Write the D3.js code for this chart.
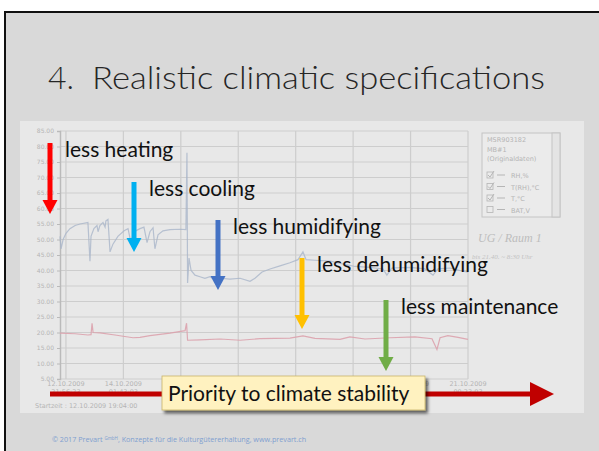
<!DOCTYPE html>
<meta charset="utf-8">
<style>
  body { margin: 0; background: #fff; }
  svg { display: block; }
</style>
<svg width="599" height="451"></svg>
<script src="https://cdn.jsdelivr.net/npm/d3@7"></script>
<script>
// ---- data (hours since Startzeit 12.10.2009 19:04:00) ----
var rhHours = [0, 0.5, 1.5, 2.9, 4.8, 7.3, 9.7, 13.5, 14.5, 15.0, 16.4, 17.9, 18.4, 19.3, 20.8, 21.8, 22.2, 23.2, 24.2,
  25.6, 28.0, 31.0, 32.9, 34.3, 35.8, 38.7, 40.6, 42.1, 43.5, 45.0, 45.9, 47.4, 49.8, 53.2, 58.0, 60.9, 61.4, 61.7,
  62.4, 63.4, 65.3, 67.7, 70.1, 72.5, 75.0, 77.4, 82.2, 87.1, 91.9, 94.3, 97.7, 101.6, 106.4, 111.2, 115.1, 117.5,
  119.0, 123.3, 130.6, 137.8, 142.7, 149.9, 156.2, 158.1, 160.5, 169.3, 176.5, 180.4, 182.8, 188.6, 193.4, 197.3];
var rhValues = [51, 47, 50, 52, 53.5, 54.5, 55, 55.5, 43, 51, 53.5, 54.5, 52.5, 54.5, 55.5, 54, 56, 56.5, 46,
  48.5, 51, 52.8, 53.5, 49, 52.5, 53.5, 54, 49, 52.5, 53.8, 47, 51.5, 52.8, 53.2, 53.3, 53.2, 78, 36,
  44, 40, 38.5, 38, 37.5, 38, 37, 37.5, 37.2, 37.5, 36.5, 37.5, 39.5, 40.5, 41.5, 42.5, 43.5, 46,
  43.5, 43.3, 43, 42, 41.3, 41, 40.5, 38.5, 40.8, 41, 40.5, 38.5, 40.5, 40.8, 40, 39.5];

var tHours = [0, 7.3, 13.5, 15.0, 15.5, 16.0, 19.3, 26.6, 35.3, 38.7, 43.5, 53.2, 60.5, 61.2, 61.7, 67.7, 77.4,
  87.1, 96.7, 111.2, 117.5, 123.3, 135.4, 140.2, 147.5, 159.6, 171.7, 179.9, 182.3, 183.8, 187.6, 192.5, 197.3];
var tValues = [19.8, 19.6, 19.2, 19.3, 23, 20, 19.9, 19.2, 18.3, 18.4, 19.0, 19.8, 20.6, 23, 17.5, 17.6, 17.9,
  17.5, 18.0, 18.2, 18.9, 18.1, 17.8, 18.6, 17.9, 18.3, 18.6, 18.0, 14.5, 18.3, 19.0, 18.4, 17.8];

var yTicks = d3.range(5, 90, 5);
var xTickHours = [2.873, 30.651, 58.429, 86.207, 113.985, 141.763, 169.541, 197.319];
// only the tick labels not hidden behind the banner are visible in the screenshot
var xLabelHours = [2.873, 30.651, 169.541, 197.319];
var xTickDates = ["12.10.2009", "14.10.2009", "19.10.2009", "21.10.2009"];
var xTickTimes = ["21:56:23", "01:43:03", "20:36:23", "00:23:03"];

var legendLines = ["MSR903182", "MB#1", "(Originaldaten)"];
var legendSeries = ["RH,%", "T(RH),°C", "T,°C", "BAT,V"];
var legendChecked = [true, true, true, false];

var noteLabels = ["less heating", "less cooling", "less humidifying", "less dehumidifying", "less maintenance"];
var noteColors = ["#ff0000", "#00b0f0", "#4472c4", "#ffc000", "#70ad47"];

var title = "Realistic climatic specifications";
var bannerText = "Priority to climate stability";

// ---- layout ----
var svg = d3.select("svg");
var plot = {left: 60, right: 468, top: 131, bottom: 379};

var x = d3.scaleLinear().domain([0, 197.32]).range([plot.left, plot.right]);
var y = d3.scaleLinear().domain([5, 85]).range([plot.bottom, plot.top]);

// slide
svg.append("rect").attr("x", 5).attr("y", 12).attr("width", 600).attr("height", 445)
  .attr("fill", "#d9d9d9").attr("stroke", "#111").attr("stroke-width", 2);

svg.append("text").attr("x", 48).attr("y", 89)
  .style("font", "300 32px Lato, sans-serif").attr("fill", "#262626").text("4.");
svg.append("text").attr("x", 92).attr("y", 89)
  .style("font", "300 32px Lato, sans-serif").attr("fill", "#262626")
  .attr("textLength", 453).attr("lengthAdjust", "spacingAndGlyphs").text(title);

// screenshot area
svg.append("rect").attr("x", 20).attr("y", 121).attr("width", 564).attr("height", 292).attr("fill", "#e8e8e8");

var g = svg.append("g");
var grid = "#cdcdcd", faint = "#b5b5b5";

g.selectAll(".hgrid").data(yTicks).enter().append("line")
  .attr("x1", plot.left).attr("x2", plot.right)
  .attr("y1", function(d) { return y(d); }).attr("y2", function(d) { return y(d); })
  .attr("stroke", grid).attr("stroke-width", 1.2);

g.selectAll(".vgrid").data(xTickHours).enter().append("line")
  .attr("x1", function(d) { return x(d); }).attr("x2", function(d) { return x(d); })
  .attr("y1", plot.top).attr("y2", plot.bottom)
  .attr("stroke", grid).attr("stroke-width", 1.2);

// y axis
var yAxis = g.append("g").attr("transform", "translate(" + plot.left + ",0)")
  .call(d3.axisLeft(y).tickValues(yTicks).tickSize(3).tickFormat(d3.format(".2f")));
yAxis.select(".domain").attr("stroke", "#bababa").attr("stroke-width", 1.5);
yAxis.selectAll("line").attr("stroke", "#bababa");
yAxis.selectAll("text").attr("fill", faint).style("font", "6px 'DejaVu Sans', sans-serif");

// x labels
var xl = g.selectAll(".xl").data(xLabelHours).enter().append("text")
  .attr("text-anchor", "middle").attr("fill", faint).style("font", "6.5px 'DejaVu Sans', sans-serif");
xl.append("tspan").attr("x", function(d) { return x(d); }).attr("y", 386).text(function(d, i) { return xTickDates[i]; });
xl.append("tspan").attr("x", function(d) { return x(d); }).attr("y", 394).text(function(d, i) { return xTickTimes[i]; });
g.append("text").attr("x", 35).attr("y", 408).attr("fill", faint)
  .style("font", "6.5px 'DejaVu Sans', sans-serif").text("Startzeit :  12.10.2009 19:04:00");

// series
var line = d3.line().x(function(d) { return x(d[0]); }).y(function(d) { return y(d[1]); });
g.append("path").datum(d3.zip(tHours, tValues)).attr("d", line)
  .attr("fill", "none").attr("stroke", "#dca2ad").attr("stroke-width", 1.2).attr("stroke-opacity", 0.9);
g.append("path").datum(d3.zip(rhHours, rhValues)).attr("d", line)
  .attr("fill", "none").attr("stroke", "#a9b5c9").attr("stroke-width", 1.2).attr("stroke-opacity", 0.8);

// logger legend box
var lg = g.append("g").attr("transform", "translate(482,133)");
lg.append("rect").attr("width", 78).attr("height", 84).attr("fill", "#ebebeb").attr("stroke", "#c4c4c4");
lg.append("rect").attr("x", 70).attr("width", 8).attr("height", 84).attr("fill", "#e4e4e4").attr("stroke", "#c4c4c4");
lg.selectAll(".ll").data(legendLines).enter().append("text")
  .attr("x", 5).attr("y", function(d, i) { return 9 + i * 9.5; })
  .attr("fill", faint).style("font", "6.5px 'DejaVu Sans', sans-serif").text(function(d) { return d; });
var rows = lg.selectAll(".ls").data(legendSeries).enter().append("g")
  .attr("transform", function(d, i) { return "translate(5," + (39 + i * 11.5) + ")"; });
rows.append("rect").attr("width", 6).attr("height", 6).attr("fill", "none").attr("stroke", faint).attr("stroke-width", 0.8);
rows.filter(function(d, i) { return legendChecked[i]; }).append("path")
  .attr("d", "M1,3 L3,5 L7,-1").attr("fill", "none").attr("stroke", faint);
rows.append("line").attr("x1", 10).attr("x2", 18).attr("y1", 3).attr("y2", 3).attr("stroke", faint);
rows.append("text").attr("x", 24).attr("y", 6).attr("fill", faint)
  .style("font", "6.5px 'DejaVu Sans', sans-serif").text(function(d) { return d; });

// handwritten note
g.append("text").attr("x", 478).attr("y", 242).attr("fill", "#bdbdbd")
  .style("font", "italic 12px 'Liberation Serif', serif").text("UG / Raum 1");
g.append("text").attr("x", 472).attr("y", 259).attr("fill", "#c2c2c2")
  .style("font", "italic 7px 'Liberation Serif', serif").text("bis 21.40.   ~ 8:30 Uhr");

// annotation arrows (pixel layout)
var notePos = [[50, 143, 214], [134, 182, 252], [218, 220, 290], [302, 258, 329], [386, 300, 371]];
var notes = svg.selectAll(".note").data(noteLabels).enter().append("g");
notes.append("rect")
  .attr("x", function(d, i) { return notePos[i][0] - 2.5; })
  .attr("y", function(d, i) { return notePos[i][1]; })
  .attr("width", 5)
  .attr("height", function(d, i) { return notePos[i][2] - notePos[i][1] - 12; })
  .attr("fill", function(d, i) { return noteColors[i]; });
notes.append("path")
  .attr("d", function(d, i) {
    var p = notePos[i];
    return "M" + (p[0] - 7.5) + "," + (p[2] - 14) + "L" + (p[0] + 7.5) + "," + (p[2] - 14) + "L" + p[0] + "," + p[2] + "Z";
  })
  .attr("fill", function(d, i) { return noteColors[i]; });
notes.append("text")
  .attr("x", function(d, i) { return notePos[i][0] + 15; })
  .attr("y", function(d, i) { return notePos[i][1] + 14; })
  .style("font", "21px Lato, sans-serif").attr("fill", "#111")
  .text(function(d) { return d; });

// big red arrow + banner
svg.append("rect").attr("x", 50).attr("y", 391.5).attr("width", 482).attr("height", 5).attr("fill", "#c00000");
svg.append("path").attr("d", "M530,382 L554,394 L530,406 Z").attr("fill", "#c00000");

var defs = svg.append("defs");
var f = defs.append("filter").attr("id", "sh").attr("x", "-10%").attr("y", "-30%").attr("width", "130%").attr("height", "170%");
f.append("feDropShadow").attr("dx", 2.5).attr("dy", 3).attr("stdDeviation", 1.5)
  .attr("flood-color", "#000").attr("flood-opacity", 0.6);
svg.append("rect").attr("x", 162).attr("y", 376).attr("width", 263).attr("height", 34)
  .attr("fill", "#fff2c0").attr("stroke", "#c8b46a").attr("stroke-width", 0.8).attr("filter", "url(#sh)");
svg.append("text").attr("x", 168).attr("y", 401).style("font", "21px Lato, sans-serif").attr("fill", "#111")
  .text(bannerText);

// footer
var ft = svg.append("text").attr("x", 52).attr("y", 442).attr("fill", "#7f9fd0")
  .style("font", "7.2px 'Open Sans', sans-serif");
ft.append("tspan").text("© 2017 Prevart ");
ft.append("tspan").attr("dy", -2.5).style("font-size", "4.5px").text("GmbH");
ft.append("tspan").attr("dy", 2.5).text(", Konzepte für die Kulturgütererhaltung, www.prevart.ch");
</script>
